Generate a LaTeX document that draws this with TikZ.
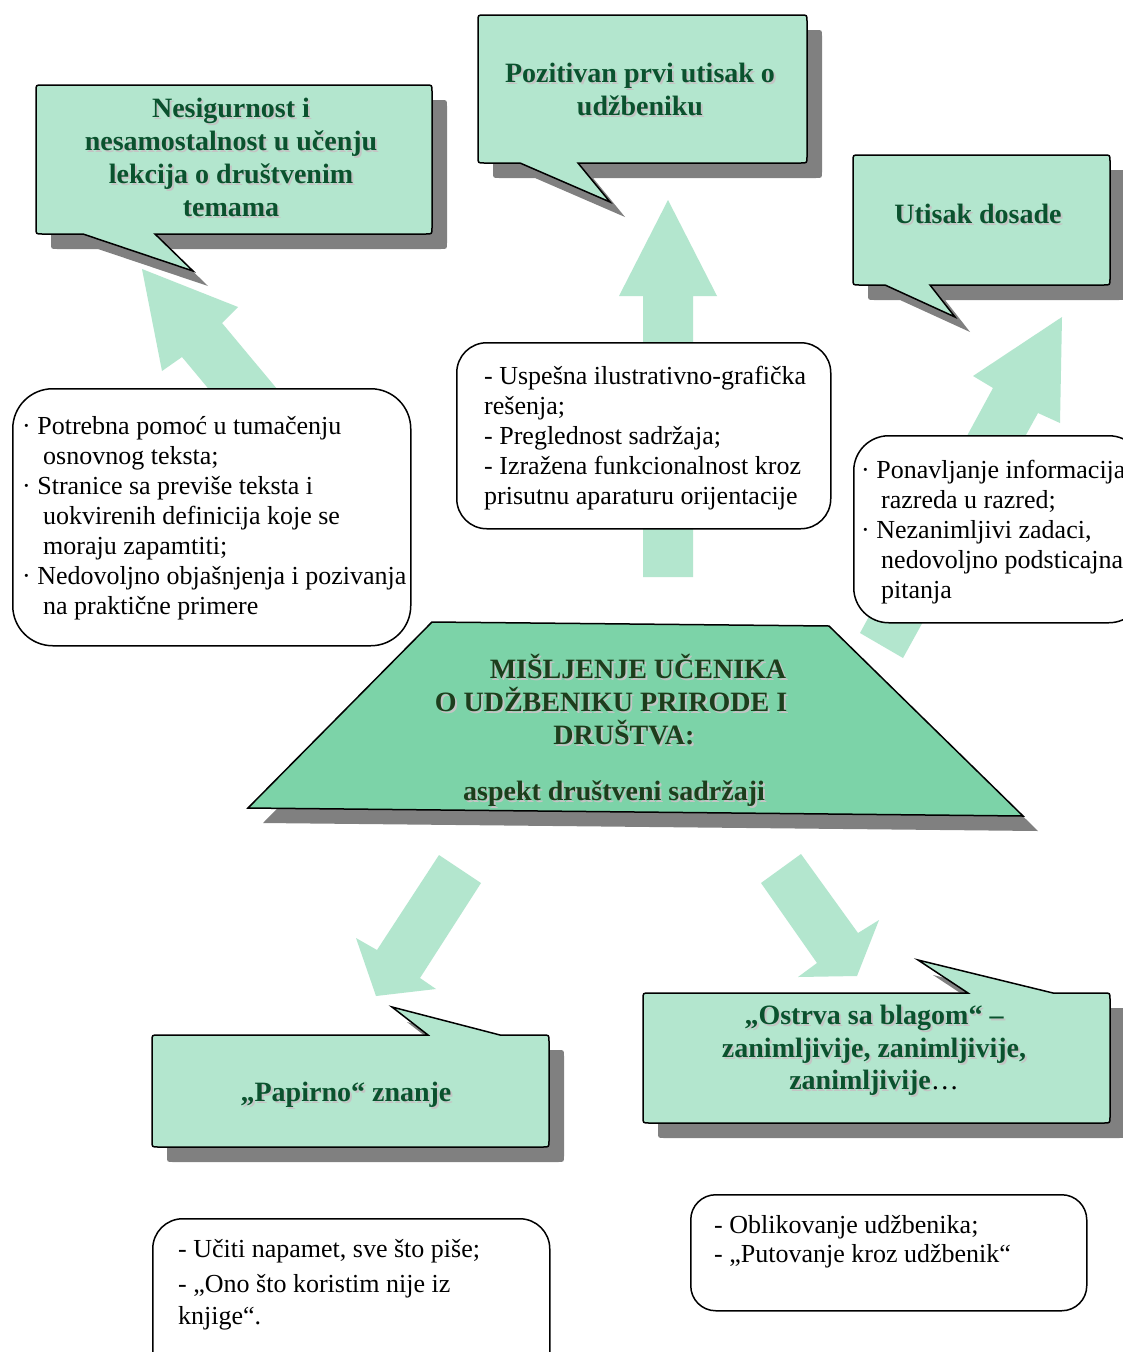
\documentclass[tikz,border=0pt]{standalone}
\usepackage{fontspec}
\setmainfont{Liberation Serif}
\definecolor{mint}{RGB}{179,230,206}
\definecolor{trapc}{RGB}{124,211,168}
\definecolor{shgray}{RGB}{128,128,128}
\definecolor{hgreen}{RGB}{10,82,46}
\definecolor{cgreen}{RGB}{28,62,28}
\definecolor{tshadow}{RGB}{196,196,196}
\newcommand{\shd}[1]{\makebox[0pt][l]{\kern2pt\raisebox{-2pt}{\textcolor{tshadow}{#1}}}#1}
% callout with tail on the bottom edge: x0 y0 x1 y1 tailL tailR tipx tipy
\newcommand{\calB}[8]{%
\path[shad, shift={(15,15)}] (#1+6,#2) -- (#3-6,#2) .. controls (#3,#2) .. (#3,#2+6) -- (#3,#4-6) .. controls (#3,#4) .. (#3-6,#4) -- (#6,#4) -- (#7,#8) -- (#5,#4) -- (#1+6,#4) .. controls (#1,#4) .. (#1,#4-6) -- (#1,#2+6) .. controls (#1,#2) .. (#1+6,#2) -- cycle;
\path[cbody] (#1+6,#2) -- (#3-6,#2) .. controls (#3,#2) .. (#3,#2+6) -- (#3,#4-6) .. controls (#3,#4) .. (#3-6,#4) -- (#6,#4) -- (#7,#8) -- (#5,#4) -- (#1+6,#4) .. controls (#1,#4) .. (#1,#4-6) -- (#1,#2+6) .. controls (#1,#2) .. (#1+6,#2) -- cycle;}
% callout with tail on the top edge
\newcommand{\calT}[8]{%
\path[shad, shift={(15,15)}] (#1+6,#2) -- (#5,#2) -- (#7,#8) -- (#6,#2) -- (#3-6,#2) .. controls (#3,#2) .. (#3,#2+6) -- (#3,#4-6) .. controls (#3,#4) .. (#3-6,#4) -- (#1+6,#4) .. controls (#1,#4) .. (#1,#4-6) -- (#1,#2+6) .. controls (#1,#2) .. (#1+6,#2) -- cycle;
\path[cbody] (#1+6,#2) -- (#5,#2) -- (#7,#8) -- (#6,#2) -- (#3-6,#2) .. controls (#3,#2) .. (#3,#2+6) -- (#3,#4-6) .. controls (#3,#4) .. (#3-6,#4) -- (#1+6,#4) .. controls (#1,#4) .. (#1,#4-6) -- (#1,#2+6) .. controls (#1,#2) .. (#1+6,#2) -- cycle;}
\tikzset{
 shad/.style={fill=shgray},
 cbody/.style={fill=mint, draw=black, line width=1.5pt, line join=miter},
 arr/.style={fill=mint},
 tbox/.style={draw=black, line width=1.5pt, fill=white, anchor=north west, inner sep=0pt},
 body/.style={font=\fontsize{26}{30}\selectfont, inner sep=0pt, anchor=base west},
 head/.style={font=\bfseries\fontsize{28}{32}\selectfont, text=hgreen, inner sep=0pt, anchor=base},
 ctr/.style={font=\bfseries\fontsize{28}{32}\selectfont, text=cgreen, inner sep=0pt, anchor=base},
}
\begin{document}
\begin{tikzpicture}[x=1pt,y=-1pt]
\useasboundingbox (0,0) rectangle (1123,1352);
\clip (0,0) rectangle (1123,1352);
\fill[white] (0,0) rectangle (1123,1352);

% ---- block arrows ----
\fill[arr] (643,577) -- (643,296) -- (619,296) -- (668,200) -- (717,296) -- (693,296) -- (693,577) -- cycle;
\fill[arr] (142,269) -- (238,307) -- (222,323) -- (363,492) -- (323,526) -- (182,357) -- (162,371) -- cycle;
\fill[arr] (1062,317) -- (1060,423) -- (1038,413) -- (903,658) -- (860,633) -- (993,388) -- (973,376) -- cycle;
\fill[arr] (439,855) -- (481,883) -- (420,978) -- (436,989) -- (376,996) -- (356,938) -- (377,950) -- cycle;
\fill[arr] (801,854) -- (858,933) -- (879,920) -- (857,976) -- (798,977) -- (817,963) -- (761,883) -- cycle;

% ---- callouts ----
\calB{36}{85}{432}{234}{83}{155}{193}{271}
\calB{478}{15}{807}{163}{520}{578}{610}{202}
\calB{853}{155}{1110}{285}{885}{930}{955}{317}
\calT{152}{1035}{549}{1147}{428}{500}{392}{1007}
\calT{643}{993}{1110}{1123}{968}{1053}{918}{960}

\node[head] (h1a) at (231,117) {\shd{Nesigurnost i}};
\node[head] (h1b) at (231,150) {\shd{nesamostalnost u učenju}};
\node[head] (h1c) at (231,183) {\shd{lekcija o društvenim}};
\node[head] (h1d) at (231,216) {\shd{temama}};
\node[head] (h2a) at (640,82) {\shd{Pozitivan prvi utisak o}};
\node[head] (h2b) at (640,115) {\shd{udžbeniku}};
\node[head] (h3a) at (978,223) {\shd{Utisak dosade}};
\node[head] (h4a) at (346,1101) {\shd{„Papirno“ znanje}};
\node[head] (h5a) at (874,1024) {\shd{„Ostrva sa blagom“ –}};
\node[head] (h5b) at (874,1057) {\shd{zanimljivije, zanimljivije,}};
\node[head] (h5c) at (874,1089) {\shd{zanimljivije}\textcolor{black}{\mdseries …}};

% ---- central trapezoid ----
\fill[shad, shift={(15,15)}] (432,622) -- (829,626) -- (1023,816) -- (248,808) -- cycle;
\path[fill=trapc, draw=black, line width=1.5pt] (432,622) -- (829,626) -- (1023,816) -- (248,808) -- cycle;
\node[ctr] (c1) at (638,678) {\shd{MIŠLJENJE UČENIKA}};
\node[ctr] (c2) at (611,711) {\shd{O UDŽBENIKU PRIRODE I}};
\node[ctr] (c3) at (624,744) {\shd{DRUŠTVA:}};
\node[ctr] (c4) at (614,800) {\shd{aspekt društveni sadržaji}};

% ---- text boxes ----
\node[tbox, rounded corners=40pt, minimum width=398pt, minimum height=257pt] (lbox) at (12,388) {};
\begin{scope}
\clip[rounded corners=40pt] (12,388) rectangle (410,645);
\node[body] (l1) at (22,434) {· Potrebna pomoć u tumačenju};
\node[body] (l2) at (43,464) {osnovnog teksta;};
\node[body] (l3) at (22,494) {· Stranice sa previše teksta i};
\node[body] (l4) at (43,524) {uokvirenih definicija koje se};
\node[body] (l5) at (43,554) {moraju zapamtiti;};
\node[body] (l6) at (22,584) {· Nedovoljno objašnjenja i pozivanja};
\node[body] (l7) at (43,614) {na praktične primere};
\end{scope}

\node[tbox, rounded corners=30pt, minimum width=374pt, minimum height=186pt] (mbox) at (456,342) {};
\node[body] (m1) at (484,384) {- Uspešna ilustrativno-grafička};
\node[body] (m2) at (484,414) {rešenja;};
\node[body] (m3) at (484,444) {- Preglednost sadržaja;};
\node[body] (m4) at (484,474) {- Izražena funkcionalnost kroz};
\node[body] (m5) at (484,504) {prisutnu aparaturu orijentacije};

\node[tbox, rounded corners=35pt, minimum width=290pt, minimum height=187pt] (rbox) at (853,435) {};
\node[body] (r1) at (861,478) {· Ponavljanje informacija};
\node[body] (r2) at (881,508) {razreda u razred;};
\node[body] (r3) at (861,538) {· Nezanimljivi zadaci,};
\node[body] (r4) at (881,568) {nedovoljno podsticajna};
\node[body] (r5) at (881,598) {pitanja};

\node[tbox, rounded corners=30pt, minimum width=397pt, minimum height=170pt] (blbox) at (152,1218) {};
\node[body] (b1) at (178,1257) {- Učiti napamet, sve što piše;};
\node[body] (b2) at (178,1292) {- „Ono što koristim nije iz};
\node[body] (b3) at (178,1324) {knjige“.};

\node[tbox, rounded corners=25pt, minimum width=396pt, minimum height=116pt] (brbox) at (690,1194) {};
\node[body] (d1) at (714,1233) {- Oblikovanje udžbenika;};
\node[body] (d2) at (714,1262) {- „Putovanje kroz udžbenik“};
\end{tikzpicture}
\end{document}
